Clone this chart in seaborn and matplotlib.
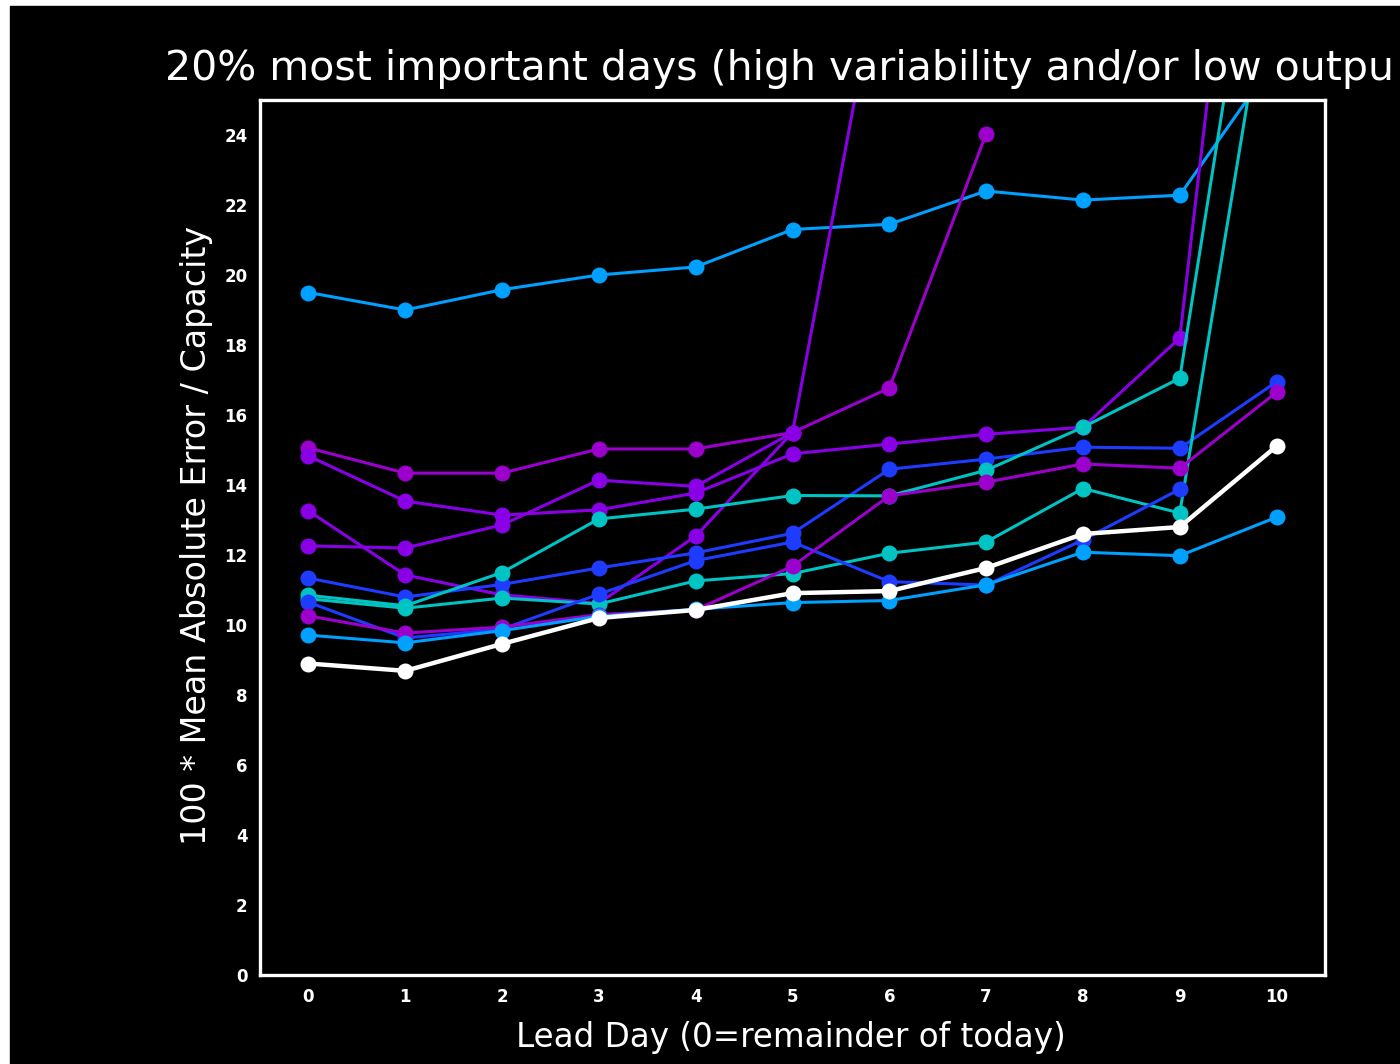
import numpy as np
import pandas as pd
import seaborn as sns
import matplotlib.pyplot as plt
from matplotlib.patches import Rectangle

# values (off-chart values are rough guesses)
nan = np.nan
lead_days = list(range(11))

top_lightblue = [19.5, 19.0, 19.58, 20.0, 20.23, 21.3, 21.45, 22.4, 22.14, 22.28, 26.2]
purple_a = [15.06, 14.34, 14.34, 15.03, 15.03, 15.5, 16.77, 24.03, nan, nan, nan]
violet_b = [14.83, 13.54, 13.14, 13.29, 13.77, 14.89, 15.17, 15.45, 15.65, 18.2, 42.0]
violet_c = [13.26, 11.43, 10.86, 10.62, 12.54, 15.5, 30.3, 32.0, 33.5, 35.0, 37.0]
violet_d = [12.26, 12.2, 12.86, 14.14, 13.96, 15.5, nan, nan, nan, nan, nan]
blue_e = [11.34, 10.8, 11.16, 11.63, 12.06, 12.62, 14.45, 14.74, 15.08, 15.05, 16.95]
teal_f = [10.85, 10.55, 11.5, 13.03, 13.31, 13.7, 13.69, 14.42, 15.65, 17.05, 34.5]
teal_g = [10.75, 10.48, 10.77, 10.6, 11.26, 11.47, 12.05, 12.37, 13.9, 13.2, 30.0]
blue_h = [10.65, 9.63, 9.88, 10.88, 11.84, 12.37, 11.24, 11.14, 12.43, 13.88, nan]
purple_i = [10.26, 9.77, 9.94, 10.3, 10.43, 11.68, 13.69, 14.08, 14.6, 14.48, 16.65]
lightblue_j = [9.71, 9.49, 9.84, 10.25, 10.45, 10.64, 10.7, 11.15, 12.08, 11.98, 13.08]
white_w = [8.9, 8.69, 9.46, 10.2, 10.43, 10.91, 10.97, 11.63, 12.6, 12.8, 15.11]

series = {
    'K': top_lightblue, 'A': purple_a, 'B': violet_b, 'C': violet_c,
    'D': violet_d, 'E': blue_e, 'F': teal_f, 'G': teal_g, 'H': blue_h,
    'I': purple_i, 'J': lightblue_j, 'W': white_w,
}

lb, mag, vio, blu, teal = '#00a0ff', '#9c00cc', '#8a00e6', '#1e3cff', '#00c3c3'
palette = {'K': lb, 'A': mag, 'B': vio, 'C': vio, 'D': vio, 'E': blu, 'F': teal,
           'G': teal, 'H': blu, 'I': mag, 'J': lb, 'W': '#ffffff'}

rows = []
for name, vals in series.items():
    for d, v in zip(lead_days, vals):
        rows.append({'series': name, 'lead': d, 'mae': v})
df = pd.DataFrame(rows).dropna()

sns.set_style('dark')
plt.rcParams['font.family'] = ['DejaVu Sans']

fig = plt.figure(figsize=(14, 10.64), dpi=100, facecolor='white')
fig.patches.append(Rectangle((10 / 1400, 0), 1390 / 1400, 1058 / 1064,
                             transform=fig.transFigure, color='black', zorder=-5))

ax = fig.add_axes([260 / 1400, 1 - 975 / 1064, 1065 / 1400, 875 / 1064])
ax.set_facecolor('black')

others = df[df['series'] != 'W']
sns.lineplot(data=others, x='lead', y='mae', hue='series', palette=palette,
             hue_order=[k for k in series if k != 'W'], estimator=None,
             errorbar=None, sort=False, marker='o', markersize=11.5,
             markeredgewidth=0, linewidth=2.2, legend=False, ax=ax)
sns.lineplot(data=df[df['series'] == 'W'], x='lead', y='mae', color='white',
             estimator=None, errorbar=None, sort=False, marker='o',
             markersize=11.5, markeredgewidth=0, linewidth=3.2, legend=False, ax=ax)

ax.set_xlim(-0.5, 10.5)
ax.set_ylim(0, 25)
ax.set_xticks(lead_days)
ax.set_yticks(range(0, 25, 2))
ax.grid(False)
for sp in ax.spines.values():
    sp.set_color('white')
    sp.set_linewidth(2.4)
ax.tick_params(colors='white', direction='out', length=5, width=1.5, pad=4)
for lab in ax.get_xticklabels() + ax.get_yticklabels():
    lab.set_fontweight('bold')
    lab.set_fontsize(12)
ax.set_xlabel('')
ax.set_ylabel('')

# the title is cut at the right edge in the reference; keep the visible part
fig.text(165 / 1400, 1 - 80 / 1064,
         '20% most important days (high variability and/or low outpu',
         color='white', fontsize=29.5, ha='left', va='baseline')
fig.text(197 / 1400, 1 - 535 / 1064, '100 * Mean Absolute Error / Capacity',
         color='white', fontsize=24, rotation=90, ha='center', va='center')
fig.text(791 / 1400, 1 - 1037 / 1064, 'Lead Day (0=remainder of today)',
         color='white', fontsize=23.5, ha='center', va='center')

fig.savefig('out.png', dpi=100, facecolor=fig.get_facecolor())
